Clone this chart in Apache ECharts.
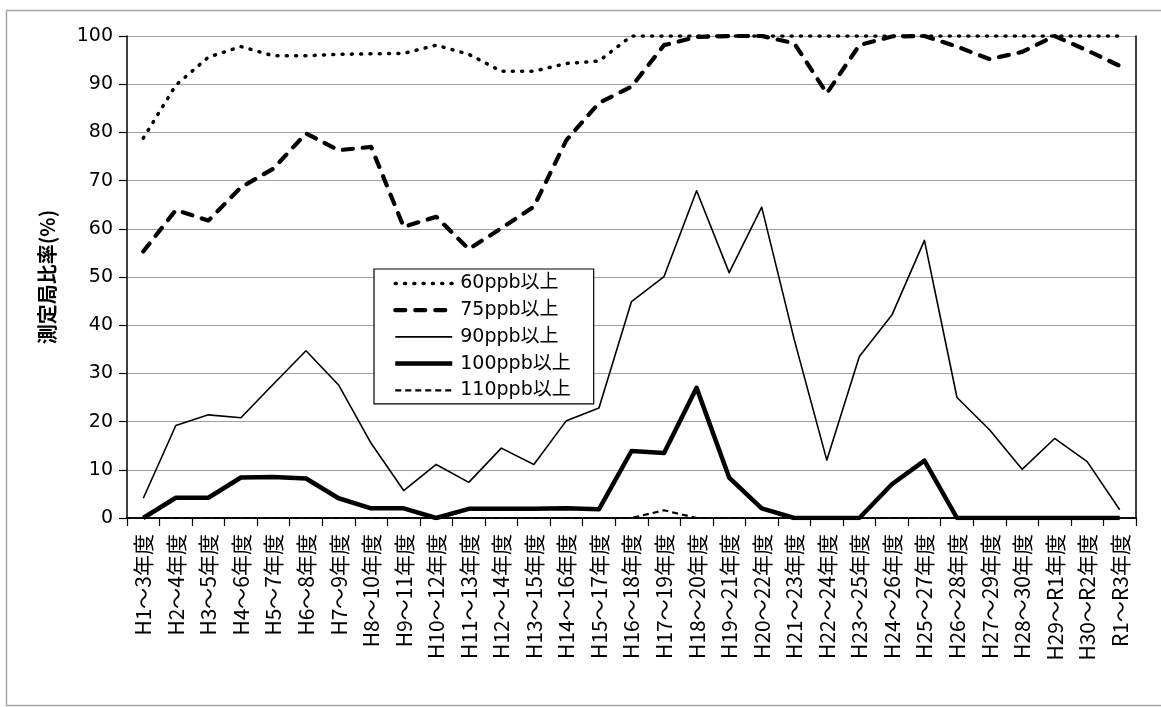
<!DOCTYPE html>
<html>
<head>
<meta charset="utf-8">
<script src="https://cdn.jsdelivr.net/npm/echarts@6/dist/echarts.min.js"></script>
<style>
html,body{margin:0;padding:0;background:#fff;}
#chart{width:1161px;height:707px;}
</style>
</head>
<body>
<div id="chart"></div>
<script>
var categories = ['H1～3年度','H2～4年度','H3～5年度','H4～6年度','H5～7年度','H6～8年度','H7～9年度','H8～10年度','H9～11年度','H10～12年度','H11～13年度','H12～14年度','H13～15年度','H14～16年度','H15～17年度','H16～18年度','H17～19年度','H18～20年度','H19～21年度','H20～22年度','H21～23年度','H22～24年度','H23～25年度','H24～26年度','H25～27年度','H26～28年度','H27～29年度','H28～30年度','H29～R1年度','H30～R2年度','R1～R3年度'];
var seriesNames = ['60ppb以上','75ppb以上','90ppb以上','100ppb以上','110ppb以上'];
var p60 = [78.8,89.8,95.6,97.8,95.9,95.9,96.2,96.3,96.4,98.1,96.2,92.7,92.7,94.3,94.8,100,100,100,100,100,100,100,100,100,100,100,100,100,100,100,100];
var p75 = [55.3,63.9,61.7,68.6,72.5,79.8,76.3,77.0,60.4,62.5,55.8,60.1,64.6,78.4,86.1,89.5,98.1,99.8,100,100,98.5,88.1,98.1,99.9,100,97.8,95.2,96.7,100,97.0,93.8];
var p90 = [4.1,19.2,21.4,20.8,27.8,34.7,27.6,15.5,5.7,11.1,7.4,14.5,11.1,20.2,22.8,44.9,50.1,67.9,50.9,64.5,37.0,12.0,33.5,42.1,57.6,25.0,18.3,10.1,16.5,11.7,1.7];
var p100 = [0,4.2,4.2,8.4,8.5,8.2,4.1,2.0,2.0,0,1.9,1.9,1.9,2.0,1.8,13.9,13.5,27.0,8.4,2.0,0,0,0,7.0,11.9,0,0,0,0,0,0];
var p110 = [0,0,0,0,0,0,0,0,0,0,0,0,0,0,0,0,1.6,0,0,0,0,0,0,0,0,0,0,0,0,0,0];
var yTicks = {min:0, max:100, interval:10};

var chart = echarts.init(document.getElementById('chart'), null, {renderer:'canvas'});
function line(name, data, width, type, cap, z){
  return {name:name, type:'line', data:data, symbol:'none', showSymbol:false, z:z,
    lineStyle:{color:'#000', width:width, type:type, cap:cap, join:'round'},
    itemStyle:{color:'#000'}, emphasis:{disabled:true}, animation:false};
}
var option = {
  animation:false,
  backgroundColor:'#fff',
  graphic:[{type:'rect', shape:{x:6.5,y:10.5,width:1170,height:695}, style:{fill:'none', stroke:'#a6a6a6', lineWidth:1.5}, z:-10, silent:true}],
  grid:{left:127, right:25, top:36, bottom:189, containLabel:false},
  legend:{
    orient:'vertical', left:374, top:269,
    data:seriesNames,
    itemWidth:57, itemHeight:14, itemGap:7.7,
    padding:[5,23,4,19],
    borderColor:'#000', borderWidth:1.2, backgroundColor:'#fff',
    itemStyle:{opacity:0},
    lineStyle:{width:'inherit', type:'inherit', cap:'inherit'},
    textStyle:{fontFamily:'DejaVu Sans, Noto Sans CJK JP', fontSize:19, color:'#000', lineHeight:19, padding:[0,0,0,3]},
    selectedMode:false
  },
  xAxis:[{
    type:'category', data:categories, boundaryGap:true,
    axisLine:{show:true, lineStyle:{color:'#000', width:1.5}},
    axisTick:{show:true, length:8, interval:0, lineStyle:{color:'#000', width:1.2}},
    axisLabel:{interval:0, rotate:90, margin:16, fontFamily:'Noto Sans CJK JP', fontSize:21, color:'#000'},
    splitLine:{show:false}
  },{
    type:'category', data:categories, position:'top', boundaryGap:true, z:5,
    axisLine:{show:true, lineStyle:{color:'#000', width:1.5}},
    axisTick:{show:false}, axisLabel:{show:false}, splitLine:{show:false}
  }],
  yAxis:[{
    type:'value', min:yTicks.min, max:yTicks.max, interval:yTicks.interval,
    name:'測定局比率(%)', nameLocation:'middle', nameRotate:90, nameGap:70,
    nameTextStyle:{fontFamily:'Noto Sans CJK JP', fontSize:20, fontWeight:'bold', color:'#000'},
    axisLine:{show:true, lineStyle:{color:'#000', width:1.5}},
    axisTick:{show:true, length:8, lineStyle:{color:'#000', width:1.2}},
    axisLabel:{margin:14, fontFamily:'DejaVu Sans', fontSize:19, color:'#000'},
    splitLine:{show:true, lineStyle:{color:'#a0a0a0', width:1.2}}
  },{
    type:'value', position:'right', min:yTicks.min, max:yTicks.max, interval:yTicks.interval, z:5,
    axisLine:{show:true, lineStyle:{color:'#000', width:1.5}},
    axisTick:{show:false}, axisLabel:{show:false}, splitLine:{show:false}
  }],
  series:[
    line(seriesNames[0], p60, 3.5, [1, 8.3], 'round', 3),
    line(seriesNames[1], p75, 4.2, [10, 10], 'round', 4),
    line(seriesNames[2], p90, 1.6, 'solid', 'butt', 5),
    line(seriesNames[3], p100, 4.5, 'solid', 'butt', 6),
    line(seriesNames[4], p110, 2.2, [6, 4], 'butt', 7)
  ]
};
chart.setOption(option);
</script>
</body>
</html>
